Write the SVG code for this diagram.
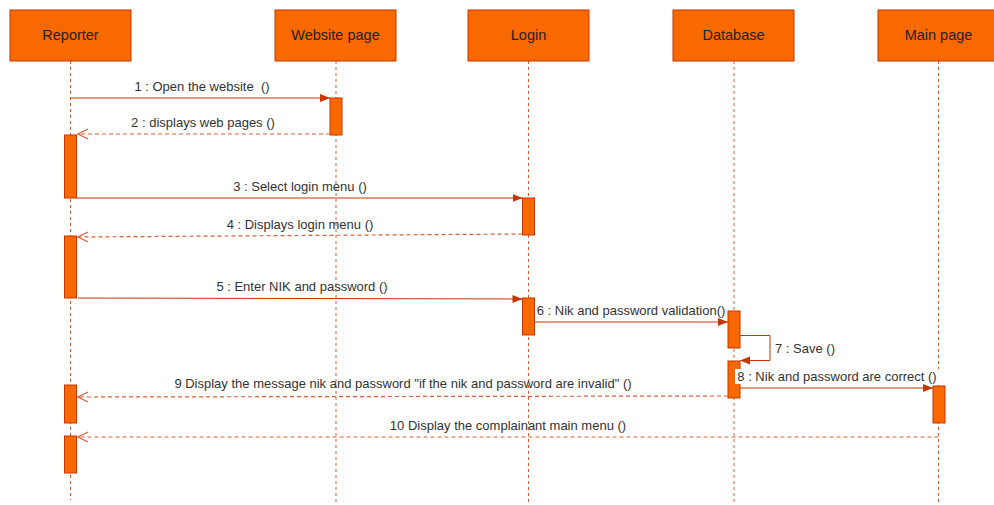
<svg xmlns="http://www.w3.org/2000/svg" width="994" height="505" viewBox="0 0 994 505">
<style>
.hdr{fill:#fa6800;stroke:#c73500;stroke-width:1}
.act{fill:#fa6800;stroke:#c73500;stroke-width:1}
.ll{stroke:#d9603a;stroke-width:1;stroke-dasharray:3 3;fill:none}
.msg{stroke:#c73500;stroke-width:1;fill:none}
.ret{stroke:#d9603a;stroke-width:1.2;fill:none;stroke-dasharray:4 3}
.ht{font-family:"Liberation Sans",Arial,sans-serif;font-size:14.5px;fill:#222;text-anchor:middle}
.mt{font-family:"Liberation Sans",Arial,sans-serif;font-size:13px;fill:#333;text-anchor:middle;white-space:pre}
</style>
<defs>
<marker id="fill" viewBox="0 0 10 10" refX="10" refY="5" markerWidth="10" markerHeight="10" markerUnits="userSpaceOnUse" orient="auto">
<path d="M0,1 L10,5 L0,9 Z" fill="#c73500"/>
</marker>
<marker id="open" viewBox="0 0 12 12" refX="11" refY="6" markerWidth="12" markerHeight="12" markerUnits="userSpaceOnUse" orient="auto">
<path d="M1,1 L11,6 L1,11" fill="none" stroke="#d9603a" stroke-width="1.2"/>
</marker>
</defs>
<rect width="994" height="505" fill="#fff"/>
<g id="lifelines">
<line class="ll" x1="70.5" y1="61" x2="70.5" y2="500"/>
<line class="ll" x1="336" y1="61" x2="336" y2="505"/>
<line class="ll" x1="528.5" y1="61" x2="528.5" y2="505"/>
<line class="ll" x1="734" y1="61" x2="734" y2="505"/>
<line class="ll" x1="938.5" y1="61" x2="938.5" y2="505"/>
</g>
<g id="reporter">
<rect class="hdr" x="10" y="10" width="121" height="51"/>
<text class="ht" x="70.5" y="40">Reporter</text>
<rect class="act" x="64.5" y="135" width="12" height="63"/>
<rect class="act" x="64.5" y="236" width="12" height="62"/>
<rect class="act" x="64.5" y="385" width="12" height="38"/>
<rect class="act" x="64.5" y="436" width="12" height="37"/>
</g>
<g id="website">
<rect class="hdr" x="275" y="10" width="121" height="51"/>
<text class="ht" x="335.5" y="40">Website page</text>
<rect class="act" x="330" y="98" width="12" height="37"/>
</g>
<g id="login">
<rect class="hdr" x="468" y="10" width="121" height="51"/>
<text class="ht" x="528.5" y="40">Login</text>
<rect class="act" x="522.5" y="198" width="12" height="37"/>
<rect class="act" x="522.5" y="298" width="12" height="37"/>
</g>
<g id="database">
<rect class="hdr" x="673" y="10" width="121" height="51"/>
<text class="ht" x="733.5" y="40">Database</text>
<rect class="act" x="728" y="311" width="12" height="37"/>
<rect class="act" x="728" y="361" width="12" height="37"/>
</g>
<g id="mainpage">
<rect class="hdr" x="878" y="10" width="121" height="51"/>
<text class="ht" x="938.5" y="40">Main page</text>
<rect class="act" x="933" y="386" width="12" height="37"/>
</g>
<g id="connectors">
<line class="msg" x1="70.5" y1="98" x2="330" y2="98" marker-end="url(#fill)"/>
<text class="mt" x="202" y="91" xml:space="preserve">1 : Open the website  ()</text>
<line class="ret" x1="330" y1="134" x2="78" y2="134" marker-end="url(#open)"/>
<text class="mt" x="203" y="127">2 : displays web pages ()</text>
<line class="msg" x1="76.5" y1="198" x2="522.5" y2="198" marker-end="url(#fill)"/>
<text class="mt" x="300" y="191">3 : Select login menu ()</text>
<line class="ret" x1="522.5" y1="234" x2="78" y2="237" marker-end="url(#open)"/>
<text class="mt" x="300" y="229">4 : Displays login menu ()</text>
<line class="msg" x1="78" y1="298" x2="522.5" y2="299" marker-end="url(#fill)"/>
<text class="mt" x="302" y="291">5 : Enter NIK and password ()</text>
<line class="msg" x1="534.5" y1="322" x2="728" y2="322" marker-end="url(#fill)"/>
<text class="mt" x="631" y="315">6 : Nik and password validation()</text>
<path class="msg" d="M740,335.5 H770 V360.5 H740" marker-end="url(#fill)"/>
<text class="mt" x="805" y="353">7 : Save ()</text>
<line class="msg" x1="740" y1="388" x2="933" y2="388" marker-end="url(#fill)"/>
<rect x="735" y="369" width="206" height="15" fill="#fff"/>
<text class="mt" x="837" y="381">8 : Nik and password are correct ()</text>
<line class="ret" x1="728" y1="396" x2="78" y2="397" marker-end="url(#open)"/>
<text class="mt" x="403" y="388">9 Display the message nik and password "if the nik and password are invalid" ()</text>
<line class="ret" x1="938.5" y1="437" x2="78" y2="437" marker-end="url(#open)"/>
<text class="mt" x="508" y="430">10 Display the complainant main menu ()</text>
</g>
</svg>
